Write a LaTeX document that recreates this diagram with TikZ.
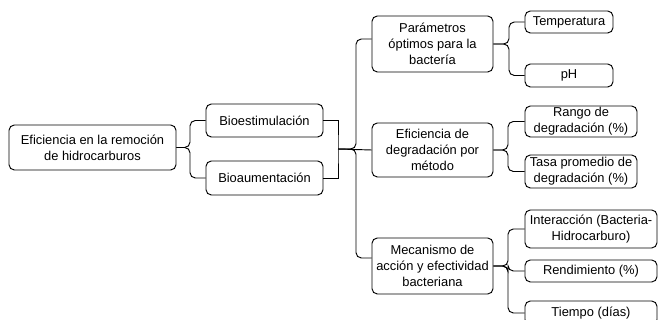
\documentclass[tikz,border=0pt]{standalone}
\usepackage{fontspec}
\setmainfont{Liberation Sans}
\begin{document}
\begin{tikzpicture}[x=0.03cm, y=-0.03cm, line width=0.8pt,
    box/.style={draw, rounded corners=0.16cm, align=center, inner sep=0pt,
        font=\fontsize{11}{13.6}\selectfont},
    brace/.style={rounded corners=0.16cm}]
    \useasboundingbox (0, 0) rectangle (659, 320);
    \clip (0, 0) rectangle (659, 320);
    % first levels
    \node[box, minimum width=5.01cm, minimum height=1.35cm] (root)
        at (92.5, 147.5) {Eficiencia en la remoción\\de hidrocarburos};
    \node[box, minimum width=3.51cm, minimum height=0.99cm] (bioest)
        at (264.5, 120.5) {Bioestimulación};
    \node[box, minimum width=3.51cm, minimum height=1.02cm] (bioaum)
        at (264.5, 178) {Bioaumentación};
    \node[box, minimum width=3.63cm, minimum height=1.68cm] (param)
        at (432.5, 44) {Parámetros\\óptimos para la\\bactería};
    \node[box, minimum width=3.63cm, minimum height=1.62cm] (efic)
        at (432.5, 150) {Eficiencia de\\degradación por\\método};
    \node[box, minimum width=3.63cm, minimum height=1.68cm] (meca)
        at (432.5, 266) {Mecanismo de\\acción y efectividad\\bacteriana};
    % last level
    \node[box, minimum width=2.64cm, minimum height=0.66cm] (temp)
        at (569, 22) {Temperatura};
    \node[box, minimum width=2.64cm, minimum height=0.69cm] (ph)
        at (569, 75.5) {pH};
    \node[box, minimum width=3.36cm, minimum height=0.93cm] (rango)
        at (581, 121.5) {Rango de\\degradación (\%)};
    \node[box, minimum width=3.36cm, minimum height=0.99cm] (tasa)
        at (581, 171.5) {Tasa promedio de\\degradación (\%)};
    \node[box, minimum width=3.96cm, minimum height=1.14cm] (inter)
        at (591, 229) {Interacción (Bacteria-\\Hidrocarburo)};
    \node[box, minimum width=3.96cm, minimum height=0.66cm] (rend)
        at (591, 271) {Rendimiento (\%)};
    \node[box, minimum width=3.96cm, minimum height=0.72cm] (tiempo)
        at (591, 313) {Tiempo (días)};
    % connectors
    \draw[brace] (root.east) -- (190, 147.5) |- (bioest.west);
    \draw[brace] (root.east) -- (190, 147.5) |- (bioaum.west);
    \coordinate (jmid) at (338, 149);
    \draw (bioest.east) -| (jmid) |- (bioaum.east);
    \draw[brace] (jmid) -- (356, 149) |- ([yshift=0.15cm]param.west);
    \draw[brace] (jmid) -- (356, 149) |- ([yshift=0.24cm]meca.west);
    \draw (jmid) -- (efic.west);
    \draw[brace] (param.east) -- (509, 44) |- (temp.west);
    \draw[brace] (param.east) -- (509, 44) |- (ph.west);
    \draw[brace] (efic.east) -- (508, 150) |- (rango.west);
    \draw[brace] (efic.east) -- (508, 150) |- (tasa.west);
    \draw[brace] (meca.east) -- (508, 266) |- (inter.west);
    \draw[brace] (meca.east) -- (508, 266) |- (rend.west);
    \draw[brace] (meca.east) -- (508, 266) |- (tiempo.west);
\end{tikzpicture}
\end{document}
